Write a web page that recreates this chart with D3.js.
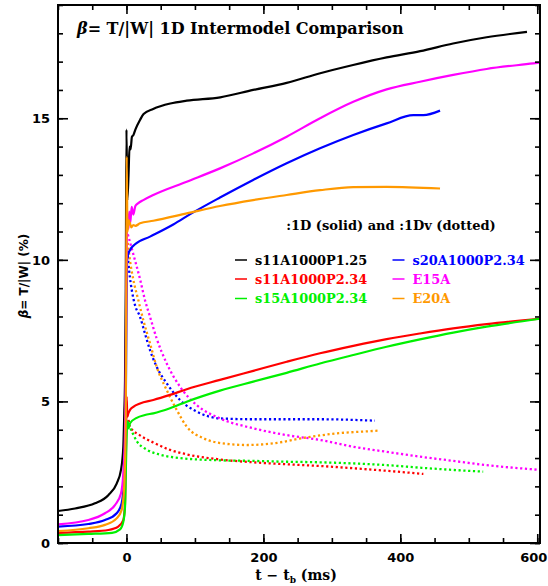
<!DOCTYPE html>
<html><head><meta charset="utf-8">
<script src="https://cdn.jsdelivr.net/npm/d3@7"></script>
<style>body{margin:0;background:#fff} svg{display:block}</style>
</head><body>
<svg id="chart" width="548" height="586"></svg>
<script>
// ---------- data ----------
const seriesNames  = ["s11A1000P1.25","s11A1000P2.34","s15A1000P2.34","s20A1000P2.34","E15A","E20A"];
const seriesColors = ["#000000","#ff0000","#00f000","#0000ff","#ff00ff","#ff9900"];

const xTicksMajor = [0, 200, 400, 600];
const xTicksMinor = [-100,-50,0,50,100,150,200,250,300,350,400,450,500,550,600];
const yTicksMajor = [0, 5, 10, 15];
const yTicksMinor = [0,1,2,3,4,5,6,7,8,9,10,11,12,13,14,15,16,17,18,19];

// 1D (solid) : [t - t_b (ms), beta (%)]
const s11P125_1D = [[-100,1.13],[-75,1.22],[-46,1.40],[-26.5,1.69],[-14.3,2.10],[-8,2.58],[-4.6,3.40],[-3.2,4.58],[-2.1,5.75],[-1,9.0],[0,14.6],[1.2,12.1],[3,13.0],[4.5,14.0],[6,13.9],[8,14.35],[10,14.4],[13,14.6],[19.8,14.94],[25,15.15],[39,15.33],[64,15.52],[88,15.62],[137,15.74],[185,16.0],[234,16.25],[283,16.59],[331,16.88],[380,17.15],[429,17.37],[477,17.64],[526,17.86],[585,18.05]];
const s11P234_1D = [[-100,0.36],[-55.7,0.40],[-26.5,0.46],[-12,0.58],[-4.6,0.81],[-2.1,1.40],[-0.7,3.4],[0.3,5.17],[1.2,4.45],[2.7,4.58],[5.2,4.70],[10,4.81],[19.8,4.93],[39.2,5.05],[63.6,5.23],[88,5.43],[136.6,5.76],[185.2,6.08],[234,6.40],[282.7,6.70],[331.3,6.96],[380,7.20],[428.7,7.40],[477.3,7.58],[526,7.73],[604,7.92]];
const s15P234_1D = [[-100,0.28],[-55.7,0.32],[-21,0.36],[-9.4,0.48],[-4.6,0.75],[-2.1,1.28],[-0.7,2.81],[0.8,4.1],[2,4.3],[3,4.05],[5.2,4.23],[15,4.42],[27,4.52],[39.2,4.58],[63.6,4.76],[88,4.99],[136.6,5.38],[185.2,5.70],[234,6.01],[282.7,6.34],[331.3,6.64],[380,6.93],[428.7,7.19],[477.3,7.43],[526,7.64],[604,7.92]];
const s20P234_1D = [[-100,0.58],[-55.7,0.67],[-31.4,0.81],[-14.3,1.05],[-7,1.40],[-3.6,2.22],[-1.1,4.6],[0,8.0],[1,10.0],[2.5,10.2],[5.2,10.35],[12.5,10.55],[34.4,10.82],[68.4,11.25],[95,11.64],[136.6,12.2],[185,12.82],[234,13.41],[282.7,13.94],[331.3,14.41],[380,14.82],[419,15.11],[433.6,15.11],[458,15.27]];
const E15A_1D    = [[-100,0.66],[-55.7,0.81],[-31.4,1.05],[-16.8,1.34],[-8,1.75],[-4.6,2.46],[-2.1,4.0],[-1.1,5.75],[-0.3,9.0],[0.8,11.2],[2,11.6],[3,11.1],[4,11.7],[5.5,11.3],[7.6,11.87],[10,11.6],[13,11.9],[17.3,12.0],[24.6,12.11],[39.2,12.29],[88,12.76],[136.6,13.23],[185.2,13.76],[234,14.35],[282.7,15.0],[331.3,15.58],[380,16.02],[428.7,16.29],[477.3,16.53],[526,16.74],[594,16.94],[604,16.97]];
const E20A_1D    = [[-100,0.42],[-55.7,0.52],[-31.4,0.64],[-14.3,0.87],[-7,1.17],[-3.6,1.87],[-1.1,4.0],[-0.2,9.0],[0.3,13.64],[1.5,11.0],[3,11.4],[5.2,11.29],[7,11.15],[10,11.23],[13,11.2],[19.8,11.29],[39.2,11.38],[88,11.64],[136.6,11.90],[185,12.11],[234,12.29],[282.7,12.46],[331.3,12.57],[380,12.58],[458,12.52]];

// 1Dv (dotted)
const s11P234_1Dv = [[3,4.35],[5.2,4.1],[19.8,3.8],[39.2,3.55],[63.6,3.29],[88,3.13],[136.6,2.95],[185.2,2.85],[234,2.78],[282.7,2.72],[331.3,2.64],[380,2.55],[433.6,2.44]];
const s15P234_1Dv = [[3,4.2],[7.6,3.95],[15,3.6],[29.5,3.3],[49,3.12],[78,3.0],[136.6,2.92],[185,2.90],[234,2.87],[282.7,2.85],[331.3,2.81],[380,2.75],[428.7,2.66],[477.3,2.58],[521,2.52]];
const s20P234_1Dv = [[1.5,10.3],[4,9.6],[8,8.9],[12.5,8.4],[19.8,7.99],[27,7.40],[34.4,6.81],[44,6.23],[58.8,5.64],[78.2,5.05],[102.6,4.64],[136.6,4.40],[185,4.37],[282.7,4.37],[363,4.32]];
const E15A_1Dv    = [[2,10.9],[10,10.2],[20,9.3],[27,8.58],[34.4,7.99],[44,7.23],[58.8,6.34],[78.2,5.52],[102.6,4.87],[136.6,4.40],[185.2,4.05],[234,3.81],[282.7,3.64],[331.3,3.40],[380,3.22],[428.7,3.05],[477.3,2.90],[526,2.75],[594,2.60],[604,2.58]];
const E20A_1Dv    = [[2,10.6],[5,10.0],[10,9.3],[17.3,8.58],[24.6,7.87],[34.4,7.05],[44,6.23],[58.8,5.40],[73.4,4.70],[88,4.11],[112.3,3.70],[146.4,3.50],[175.6,3.46],[214.5,3.52],[263.2,3.73],[307,3.87],[355.7,3.95],[369,3.97]];

const solidSeries  = [s11P125_1D, s11P234_1D, s15P234_1D, s20P234_1D, E15A_1D, E20A_1D];
const dottedSeries = [null, s11P234_1Dv, s15P234_1Dv, s20P234_1Dv, E15A_1Dv, E20A_1Dv];

// ---------- layout ----------
const L = 58, R = 540, T = 5, B = 543;
const svg = d3.select("#chart");
const x = d3.scaleLinear().domain([-100, 604]).range([L, R]);
const y = d3.scaleLinear().domain([0, 19]).range([B, T]);

svg.append("defs").append("clipPath").attr("id","clip")
  .append("rect").attr("x",L).attr("y",T).attr("width",R-L).attr("height",B-T);

const line = d3.line().x(d=>x(d[0])).y(d=>y(d[1])).curve(d3.curveMonotoneX);
const plot = svg.append("g").attr("clip-path","url(#clip)");

dottedSeries.forEach((s,i)=>{
  if(!s) return;
  plot.append("path").attr("d", line(s)).attr("fill","none")
    .attr("stroke", seriesColors[i]).attr("stroke-width",2.3)
    .attr("stroke-dasharray","2.2,2.6");
});
solidSeries.forEach((s,i)=>{
  plot.append("path").attr("d", line(s)).attr("fill","none")
    .attr("stroke", seriesColors[i]).attr("stroke-width",2.2)
    .attr("stroke-linejoin","round");
});

// ---------- axes ----------
function styleAxis(g){
  g.select(".domain").remove();
  g.selectAll(".tick line").attr("stroke","#000").attr("stroke-width",1.6);
  g.selectAll(".tick text").attr("font-family","DejaVu Sans").attr("font-weight","bold")
    .attr("font-size",13).attr("fill","#000");
}
const fmt = d3.format("d");
svg.append("g").attr("transform",`translate(0,${B})`)
  .call(d3.axisBottom(x).tickValues(xTicksMinor).tickSize(-5).tickFormat("")).call(styleAxis);
const xAx = svg.append("g").attr("transform",`translate(0,${B})`)
  .call(d3.axisBottom(x).tickValues(xTicksMajor).tickSize(-9).tickPadding(10).tickFormat(fmt)).call(styleAxis);
xAx.selectAll(".tick text").filter(d=>d===600).attr("dx",-4);
svg.append("g").attr("transform",`translate(0,${T})`)
  .call(d3.axisTop(x).tickValues(xTicksMinor).tickSize(-5).tickFormat("")).call(styleAxis);
svg.append("g").attr("transform",`translate(0,${T})`)
  .call(d3.axisTop(x).tickValues(xTicksMajor).tickSize(-9).tickFormat("")).call(styleAxis);
svg.append("g").attr("transform",`translate(${L},0)`)
  .call(d3.axisLeft(y).tickValues(yTicksMinor).tickSize(-5).tickFormat("")).call(styleAxis);
svg.append("g").attr("transform",`translate(${L},0)`)
  .call(d3.axisLeft(y).tickValues(yTicksMajor).tickSize(-10).tickPadding(8).tickFormat(fmt)).call(styleAxis);
svg.append("g").attr("transform",`translate(${R},0)`)
  .call(d3.axisRight(y).tickValues(yTicksMinor).tickSize(-5).tickFormat("")).call(styleAxis);
svg.append("g").attr("transform",`translate(${R},0)`)
  .call(d3.axisRight(y).tickValues(yTicksMajor).tickSize(-10).tickFormat("")).call(styleAxis);

svg.append("rect").attr("x",L).attr("y",T).attr("width",R-L).attr("height",B-T)
  .attr("fill","none").attr("stroke","#000").attr("stroke-width",2);

// ---------- texts ----------
const serif = "DejaVu Serif";
const title = svg.append("text").attr("x",77).attr("y",34)
  .attr("font-family",serif).attr("font-weight","bold").attr("font-size",16).attr("fill","#000");
title.append("tspan").attr("font-style","italic").text("β");
title.append("tspan").text("= T/|W| 1D Intermodel Comparison");

const xl = svg.append("text").attr("x",296).attr("y",580).attr("text-anchor","middle")
  .attr("font-family",serif).attr("font-weight","bold").attr("font-size",14).attr("fill","#000");
xl.append("tspan").text("t − t");
xl.append("tspan").attr("font-size",9).attr("dy",3).text("b");
xl.append("tspan").attr("dy",-3).text(" (ms)");

const yl = svg.append("text").attr("transform","translate(28,276) rotate(-90)").attr("text-anchor","middle")
  .attr("font-family","DejaVu Sans").attr("font-weight","bold").attr("font-size",12).attr("fill","#000");
yl.append("tspan").attr("font-style","italic").text("β");
yl.append("tspan").text("= T/|W| (%)");

// legend
svg.append("text").attr("x",391).attr("y",230).attr("text-anchor","middle")
  .attr("font-family",serif).attr("font-weight","bold").attr("font-size",13).attr("fill","#000")
  .text(":1D (solid) and :1Dv (dotted)");
const legCols = [235, 392.5];
const legRows = [260, 279, 298.5];
seriesNames.forEach((n,i)=>{
  const cx = legCols[Math.floor(i/3)], cy = legRows[i%3];
  svg.append("line").attr("x1",cx).attr("x2",cx+12).attr("y1",cy).attr("y2",cy)
    .attr("stroke",seriesColors[i]).attr("stroke-width",1.5);
  svg.append("text").attr("x",cx+20).attr("y",cy+4.5)
    .attr("font-family",serif).attr("font-weight","bold").attr("font-size",12.9)
    .attr("fill",seriesColors[i]).text(n);
});
</script>
</body></html>
